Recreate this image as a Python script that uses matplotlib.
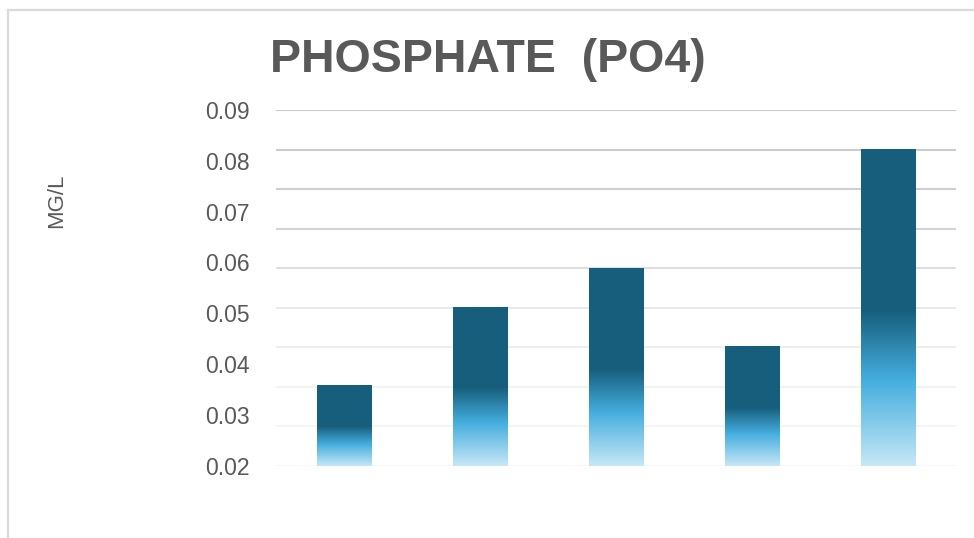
import numpy as np
import matplotlib
matplotlib.use("Agg")
import matplotlib.pyplot as plt
from matplotlib.colors import LinearSegmentedColormap
from matplotlib.lines import Line2D

# Phosphate readings (mg/L) for five sampling points
sites = ["Site 1", "Site 2", "Site 3", "Site 4", "Site 5"]
phosphate = [0.0359, 0.0513, 0.0589, 0.0436, 0.0823]
tick_values = [0.02, 0.03, 0.04, 0.05, 0.06, 0.07, 0.08, 0.09]
tick_labels = ["0.02", "0.03", "0.04", "0.05", "0.06", "0.07", "0.08", "0.09"]

TEXT = "#595959"
plt.rcParams["font.family"] = ["Liberation Sans", "DejaVu Sans"]

fig = plt.figure(figsize=(9.74, 5.38), dpi=100)
W, H = 974, 538
ax = fig.add_axes([276 / W, 1 - 465.7 / H, (956 - 276) / W, (465.7 - 110) / H])

x = np.arange(len(sites))
bars = ax.bar(x, phosphate, width=0.4, bottom=0, color="none",
              edgecolor="none", zorder=3)

# vertical gradient: dark teal on top, bright blue, pale blue at the base
grad = LinearSegmentedColormap.from_list(
    "phos", [(0.0, "#c6e7f6"), (0.27, "#45aede"), (0.49, "#175e7d"),
             (1.0, "#175e7d")])
g = np.linspace(0, 1, 256).reshape(-1, 1)
for b in bars:
    x0, w, h = b.get_x(), b.get_width(), b.get_height()
    im = ax.imshow(g, cmap=grad, origin="lower", aspect="auto",
                   extent=(x0, x0 + w, 0.02, h), zorder=3,
                   interpolation="bilinear")
    im.set_clip_path(b)

ax.set_xlim(-0.5, len(sites) - 0.5)
ax.set_ylim(0.02, 0.09)

# fading horizontal gridlines
grid_y = np.linspace(0.02, 0.09, 10)
grid_colors = ["#f7f7f7", "#f5f5f5", "#f2f2f2", "#ededed", "#e9e9e9",
               "#dedede", "#d4d4d4", "#d0d0d0", "#cccccc", "#c9c9c9"]
for yv, c in zip(grid_y, grid_colors):
    ax.axhline(yv, color=c, lw=1.5, zorder=1)

ax.set_yticks(tick_values)
ax.set_yticklabels(tick_labels)
ax.tick_params(axis="y", length=0, pad=19, labelsize=16.5, labelcolor=TEXT)
ax.set_xticks([])
for s in ax.spines.values():
    s.set_visible(False)
ax.patch.set_alpha(0)

fig.text(56.5 / W, 1 - 201 / H, "MG/L", rotation=90, ha="center",
         va="center", fontsize=16, color=TEXT)
fig.text(488 / W, 1 - 72 / H, "PHOSPHATE  (PO4)", ha="center",
         va="baseline", fontsize=33.5, fontweight="bold", color=TEXT)

# chart frame (top and left edges)
fig.add_artist(Line2D([8 / W, 1.0], [1 - 10 / H, 1 - 10 / H],
                      transform=fig.transFigure, color="#d9d9d9", lw=1.6))
fig.add_artist(Line2D([8 / W, 8 / W], [0.0, 1 - 10 / H],
                      transform=fig.transFigure, color="#d9d9d9", lw=1.6))

fig.savefig("out.png", dpi=100)
